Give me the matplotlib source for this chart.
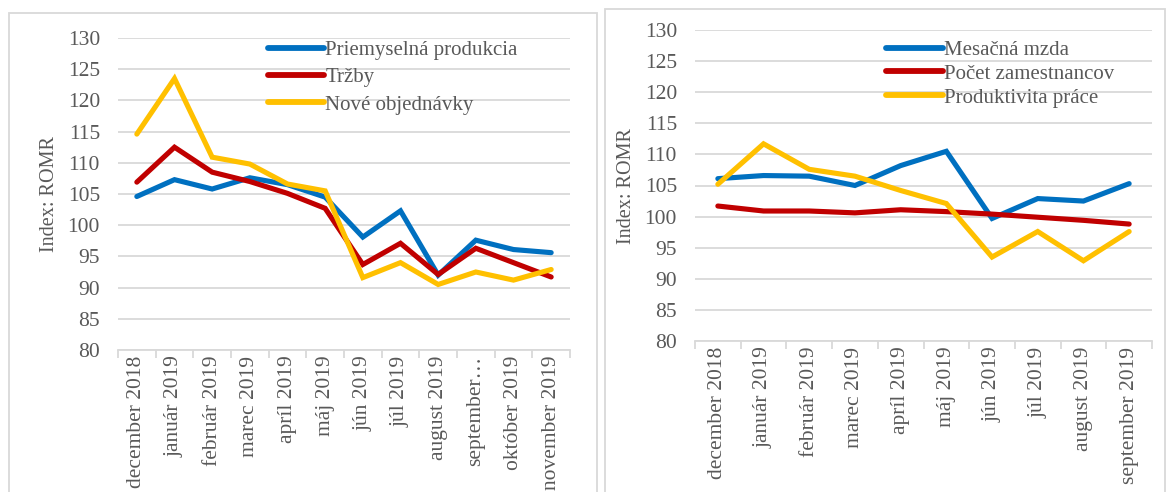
"""Two panel index chart: industry and labour indicators (index ROMR)"""
import matplotlib.pyplot as plt
from matplotlib.patches import Rectangle

plt.rcParams['font.family'] = ['Liberation Serif', 'DejaVu Serif']

months_left = ['december 2018', 'január 2019', 'február 2019', 'marec 2019',
               'apríl 2019', 'máj 2019', 'jún 2019', 'júl 2019', 'august 2019',
               'september…', 'október 2019', 'november 2019']
priemysel = [104.6, 107.3, 105.8, 107.6, 106.5, 104.5, 98.1, 102.3, 92.0, 97.6, 96.1, 95.6]
trzby = [106.9, 112.5, 108.5, 107.0, 105.1, 102.7, 93.7, 97.1, 92.1, 96.3, 94.0, 91.7]
objednavky = [114.6, 123.5, 110.9, 109.8, 106.6, 105.5, 91.6, 94.0, 90.5, 92.5, 91.2, 92.9]

months_right = ['december 2018', 'január 2019', 'február 2019', 'marec 2019',
                'apríl 2019', 'máj 2019', 'jún 2019', 'júl 2019', 'august 2019',
                'september 2019']
mzda = [106.1, 106.6, 106.5, 105.0, 108.2, 110.5, 99.7, 102.9, 102.5, 105.3]
zamestnanci = [101.7, 100.9, 100.9, 100.6, 101.1, 100.8, 100.4, 99.9, 99.4, 98.8]
produktivita = [105.2, 111.7, 107.6, 106.5, 104.2, 102.1, 93.5, 97.6, 92.9, 97.6]

BLUE = '#0070C0'
RED = '#C00000'
YELLOW = '#FFC000'
TEXT = '#595959'
GRID = '#D9D9D9'


def draw_panel(ax, labels, series, names, legend_anchor, spacing):
    """Draws one panel with three lines in the Excel look"""
    xs = list(range(len(labels)))
    for ys, color, name in zip(series, [BLUE, RED, YELLOW], names):
        ax.plot(xs, ys, color=color, linewidth=3.7, label=name,
                solid_capstyle='round', solid_joinstyle='miter')
    ax.set_xlim(-0.5, len(labels) - 0.5)
    ax.set_ylim(80, 130)
    ax.set_yticks(range(80, 131, 5))
    ax.yaxis.grid(True, color=GRID, linewidth=1.3)
    ax.set_axisbelow(True)
    for side in ['top', 'right', 'left']:
        ax.spines[side].set_visible(False)
    ax.spines['bottom'].set_color(GRID)
    ax.spines['bottom'].set_linewidth(1.3)
    ax.set_xticks([x - 0.5 for x in xs] + [len(xs) - 0.5], minor=False)
    ax.set_xticklabels([])
    ax.tick_params(axis='x', which='major', length=6, color=GRID, width=1.3)
    ax.set_xticks(xs, minor=True)
    ax.set_xticklabels(labels, minor=True, rotation=90, fontsize=15.5, color=TEXT)
    ax.tick_params(axis='x', which='minor', length=0, pad=4)
    ax.tick_params(axis='y', length=0, labelsize=15.5, labelcolor=TEXT, pad=13)
    ax.set_ylabel('Index: ROMR', fontsize=14.5, color=TEXT, labelpad=6)
    leg = ax.legend(loc='upper left', bbox_to_anchor=legend_anchor, frameon=False,
                    fontsize=15, handlelength=2.7, handletextpad=0.05,
                    labelspacing=spacing, borderpad=0, labelcolor=TEXT)
    for line in leg.get_lines():
        line.set_linewidth(4.2)


def main():
    fig = plt.figure(figsize=(11.68, 4.92), dpi=100)
    # chart frames
    fig.patches.append(Rectangle((9 / 1168, -0.1), 588 / 1168, 1.1 - 13 / 492,
                                 transform=fig.transFigure, fill=False,
                                 edgecolor=GRID, linewidth=1.3))
    fig.patches.append(Rectangle((605 / 1168, -0.1), 560 / 1168, 1.1 - 9 / 492,
                                 transform=fig.transFigure, fill=False,
                                 edgecolor=GRID, linewidth=1.3))

    ax1 = fig.add_axes([118 / 1168, (492 - 350) / 492, 452 / 1168, 312 / 492])
    draw_panel(ax1, months_left, [priemysel, trzby, objednavky],
               ['Priemyselná produkcia', 'Tržby', 'Nové objednávky'], (0.309, 1.025), 0.37)

    ax2 = fig.add_axes([695 / 1168, (492 - 341) / 492, 457 / 1168, 311 / 492])
    draw_panel(ax2, months_right, [mzda, zamestnanci, produktivita],
               ['Mesačná mzda', 'Počet zamestnancov', 'Produktivita práce'], (0.396, 1.0), 0.2)

    fig.savefig('out.png', dpi=100)


if __name__ == "__main__":
    main()
